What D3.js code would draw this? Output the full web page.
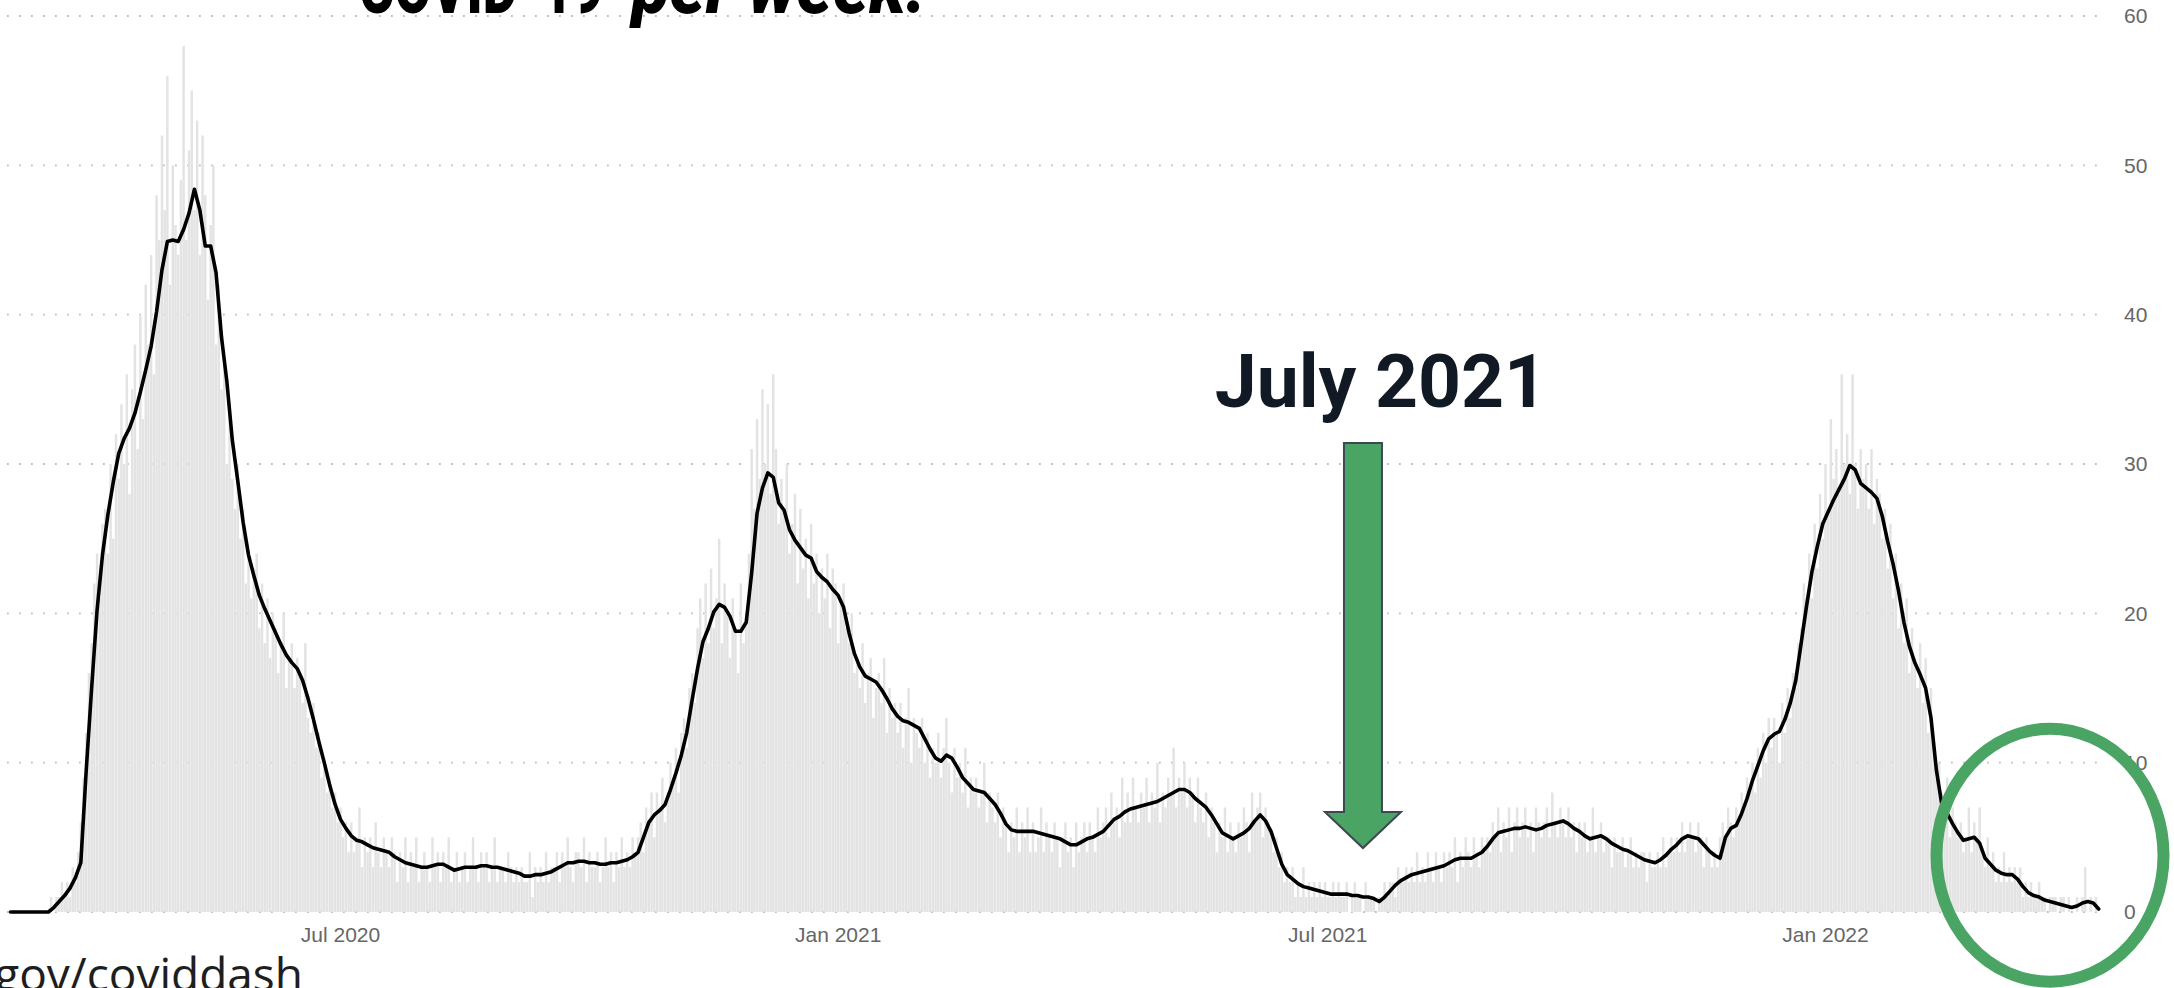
<!DOCTYPE html>
<html><head><meta charset="utf-8">
<script src="https://cdn.jsdelivr.net/npm/d3@7/dist/d3.min.js"></script>
<style>html,body{margin:0;padding:0;background:#fff;overflow:hidden}</style>
</head><body>
<svg id="chart" width="2174" height="988"></svg>
<script>
// ---------- data ----------
const startDate = "2020-03-01";
const endDate = "2022-04-13";
const yTicks = [0, 10, 20, 30, 40, 50, 60];
const xTickDates = ["2020-07-01", "2021-01-01", "2021-07-01", "2022-01-01"];
// daily values, one per day from startDate
const dailyValues = [
0,0,0,0,0,0,0, 0,0,0,0,0,0,0, 0,1,0,1,1,2,1, 2,1,3,2,4,6,9,
12,16,18,22,24,21,26, 27,24,30,25,32,29,34, 30,36,28,35,38,31,40, 33,42,38,44,36,48,45,
52,47,56,42,50,46,44, 49,58,45,51,55,47,53, 44,52,48,41,46,50,38, 42,35,37,30,33,29,27,
30,25,27,22,24,21,23, 24,19,22,18,21,17,20, 19,16,18,20,15,17,18, 15,17,16,14,18,13,12,
14,11,12,9,10,8,9, 7,8,6,7,5,6,4, 6,4,5,7,3,5,4, 5,3,6,4,3,5,4,
3,5,4,2,4,3,5, 2,4,3,5,2,3,4, 3,2,5,3,4,2,4, 3,5,2,3,4,2,3,
4,2,3,5,3,2,4, 3,4,2,3,5,2,3, 3,2,4,3,2,3,2, 3,2,2,4,1,3,2,
3,2,4,2,3,3,4, 2,4,3,5,3,2,4, 4,3,5,2,4,3,3, 4,2,3,5,3,4,2,
4,3,5,3,4,3,5, 4,5,6,4,7,6,8, 5,8,7,9,6,8,10, 9,11,8,12,13,11,15,
16,14,19,21,17,22,18, 23,19,21,25,18,22,20, 17,21,19,16,22,18,20, 24,31,27,33,29,35,30,
34,28,36,31,26,29,27, 30,24,26,28,22,27,23, 25,21,26,22,24,20,23, 21,24,19,23,22,18,21,
22,19,18,20,16,17,15, 18,14,16,17,13,15,16, 14,17,12,15,13,14,12, 14,11,13,15,10,13,12,
11,13,10,12,9,11,10, 12,9,11,13,10,8,11, 9,10,8,11,7,9,8, 9,7,8,10,6,8,7,
6,8,5,7,6,4,6, 5,7,4,6,5,7,4, 6,4,5,7,4,6,5, 4,6,5,3,5,6,4,
5,3,6,4,5,6,4, 6,5,4,7,5,6,7, 5,8,6,7,5,9,6, 8,6,9,7,6,8,7,
9,6,8,7,10,6,8, 7,9,8,11,7,9,8, 10,7,9,8,6,9,7, 6,8,5,7,6,4,6,
5,7,4,6,5,4,6, 5,7,6,4,8,6,7, 8,5,7,6,5,4,5, 3,4,2,3,2,3,1,
2,1,3,1,2,1,2, 1,2,1,2,1,1,2, 1,2,1,1,2,0,1, 2,1,1,0,2,1,1,
1,0,1,1,2,1,2, 2,1,3,2,2,3,2, 3,2,4,2,3,2,4, 3,2,4,3,2,4,3,
4,3,5,2,4,3,5, 4,3,5,4,3,5,4, 5,4,6,5,7,4,6, 5,7,4,6,7,5,6,
7,5,6,4,7,6,5, 6,7,5,8,6,5,7, 6,5,7,5,6,4,6, 5,6,4,5,7,4,5,
6,4,5,5,3,5,4, 4,5,3,4,5,3,4, 3,4,4,2,4,3,3, 4,3,5,3,4,5,4,
5,4,6,4,5,6,5, 4,6,5,3,5,4,3, 4,3,5,6,5,7,6, 5,7,6,8,7,9,8,
10,8,11,9,12,10,13, 11,13,12,10,14,12,15, 13,16,15,18,19,22,21, 24,21,26,23,28,25,30,
27,33,29,31,28,36,30, 32,28,36,30,27,31,29, 30,27,31,26,29,28,25, 27,23,26,21,24,19,22,
18,21,16,19,17,15,18, 14,17,12,15,11,9,10, 8,6,9,5,7,6,5, 6,4,5,7,4,6,5,
7,4,3,5,3,4,2, 3,2,4,2,3,2,3, 2,3,1,2,1,2,1, 1,2,1,1,0,1,1,
1,0,1,1,0,1,0, 0,1,0,1,3,0,1, 0,1,0,0
];
// 7-day average, one value every 2 days from startDate
const averageStepDays = 2;
const averageValues = [
0,0,0,0,0,0,0,0, 0.3,0.7,1.1,1.6,2.3,3.3,9.5,15.0,20.2,23.9,26.6,28.8,30.7,31.7,32.4,33.4,34.8,36.3,37.9,40.2,
43.0,44.9,45.0,44.9,45.7,46.8,48.4,47.0,44.6,44.6,42.8,38.5,35.5,31.6,28.9,26.1,23.9,22.5,21.2,20.3,19.5,18.7,
17.9,17.2,16.7,16.3,15.5,14.3,12.9,11.4,10.0,8.5,7.2,6.2,5.6,5.1,4.8,4.7,4.5,4.3,4.2,4.1,4.0,3.7,3.5,3.3,3.2,
3.1,3.0,3.0,3.1,3.2,3.2,3.0,2.8,2.9,3.0,3.0,3.0,3.1,3.1,3.0,3.0,2.9,2.8,2.7,2.6,2.4,2.4,2.5,2.5,2.6,2.7,2.9,
3.1,3.3,3.3,3.4,3.4,3.3,3.3,3.2,3.2,3.3,3.3,3.4,3.5,3.7,4.0,5.0,6.0,6.5,6.8,7.2,8.2,9.3,10.5,12.0,14.2,16.3,
18.1,19.0,20.1,20.6,20.4,19.8,18.8,18.8,19.4,22.7,26.7,28.4,29.4,29.1,27.4,26.9,25.6,24.9,24.4,23.9,23.7,22.8,
22.4,22.1,21.6,21.2,20.4,18.7,17.3,16.4,15.8,15.6,15.4,14.9,14.3,13.6,13.1,12.8,12.7,12.5,12.3,11.6,10.9,10.3,
10.1,10.5,10.3,9.7,9.0,8.6,8.2,8.1,8.0,7.6,7.2,6.6,5.9,5.5,5.4,5.4,5.4,5.4,5.3,5.2,5.1,5.0,4.9,4.7,4.5,4.5,
4.7,4.9,5.0,5.2,5.4,5.8,6.2,6.4,6.7,6.9,7.0,7.1,7.2,7.3,7.4,7.6,7.8,8.0,8.2,8.2,8.0,7.6,7.3,7.0,6.5,5.9,5.3,
5.1,4.9,5.1,5.3,5.6,6.1,6.5,6.1,5.4,4.3,3.2,2.5,2.2,1.9,1.7,1.6,1.5,1.4,1.3,1.2,1.2,1.2,1.2,1.1,1.1,1.0,1.0,
0.9,0.7,1.0,1.4,1.8,2.1,2.3,2.5,2.6,2.7,2.8,2.9,3.0,3.1,3.3,3.5,3.6,3.6,3.6,3.8,4.0,4.4,4.9,5.3,5.4,5.5,5.6,
5.6,5.7,5.6,5.5,5.6,5.8,5.9,6.0,6.1,5.9,5.6,5.4,5.1,4.9,5.0,5.1,4.9,4.6,4.4,4.2,4.1,3.9,3.7,3.5,3.4,3.3,3.5,
3.8,4.2,4.5,4.9,5.1,5.0,4.9,4.5,4.1,3.8,3.6,5.0,5.6,5.8,6.6,7.6,8.8,9.8,10.8,11.6,11.9,12.1,12.9,14.0,15.5,
18.0,20.5,22.8,24.5,26.0,26.8,27.6,28.3,29.0,29.9,29.6,28.7,28.4,28.1,27.7,26.5,24.8,23.3,21.5,19.4,17.8,16.7,
15.9,15.0,13.0,9.5,7.2,6.6,5.9,5.3,4.8,4.9,5.0,4.6,3.6,3.2,2.8,2.6,2.5,2.5,2.2,1.7,1.3,1.1,1.0,0.8,0.7,0.6,
0.5,0.4,0.3,0.4,0.6,0.7,0.6,0.2
];
const titleMain = "COVID-19";
const titleItalic = "per week.";
const annotationLabel = "July 2021";
const annotationDate = "2021-07-14";
const highlightDate = "2022-03-25";
const highlightValue = 3.8;
const sourceText = "gov/coviddash";

// ---------- drawing ----------
const W = 2174, H = 988;
const parse = d3.utcParse("%Y-%m-%d");
const t0 = parse(startDate), t1 = parse(endDate);
const x = d3.scaleUtc().domain([t0, t1]).range([10.5, 2101.4]);
const y = d3.scaleLinear().domain([0, 60]).range([912, 16]);
const dayAt = i => d3.utcDay.offset(t0, i);
const dayW = x(dayAt(1)) - x(dayAt(0));
const svg = d3.select("#chart");
svg.append("rect").attr("width", W).attr("height", H).attr("fill", "#fff");

// gridlines
svg.append("g").selectAll("line").data(yTicks).join("line")
  .attr("x1", 7).attr("x2", 2104)
  .attr("y1", d => y(d)).attr("y2", d => y(d))
  .attr("stroke", "#bdbdbd").attr("stroke-width", 1.8)
  .attr("stroke-dasharray", "1.8,10.2");

// bars
const barW = dayW * 0.9;
svg.append("g").selectAll("rect").data(dailyValues).join("rect")
  .attr("x", (d, i) => x(dayAt(i)) - barW / 2)
  .attr("y", d => y(d))
  .attr("width", barW)
  .attr("height", d => y(0) - y(d))
  .attr("fill", "#e3e3e3");

// 7-day average line
const line = d3.line()
  .x((d, i) => x(dayAt(i * averageStepDays)))
  .y(d => y(d))
  .curve(d3.curveLinear);
svg.append("path").datum(averageValues)
  .attr("d", line).attr("fill", "none")
  .attr("stroke", "#000").attr("stroke-width", 3.6)
  .attr("stroke-linejoin", "round").attr("stroke-linecap", "round");

// axis labels
svg.append("g").selectAll("text").data(yTicks).join("text")
  .attr("x", 2124).attr("y", d => y(d)).attr("dy", "0.35em")
  .attr("font-family", "'Liberation Sans', Arial, sans-serif")
  .attr("font-size", 21).attr("fill", "#666")
  .text(d => d);
const fmt = d3.utcFormat("%b %Y");
svg.append("g").selectAll("text").data(xTickDates).join("text")
  .attr("x", d => x(parse(d))).attr("y", 942)
  .attr("text-anchor", "middle")
  .attr("font-family", "'Liberation Sans', Arial, sans-serif")
  .attr("font-size", 21).attr("fill", "#666")
  .text(d => fmt(parse(d)));

// title (cut at top): condensed by horizontal scaling to the measured widths
function condensedText(str, x0, width, italic) {
  const g = svg.append("g");
  const t = g.append("text").attr("x", 0).attr("y", 0)
    .attr("font-family", "Roboto, sans-serif").attr("font-weight", 900)
    .attr("font-style", italic ? "italic" : "normal")
    .attr("font-size", 75).attr("fill", "#000").text(str);
  const len = t.node().getComputedTextLength() || width;
  g.attr("transform", `translate(${x0},13) scale(${width / len},1)`);
}
condensedText(titleMain, 359, 245, false);
condensedText(titleItalic, 632, 294, true);

// annotation arrow
const ax = x(parse(annotationDate));
const shaftHalf = 19, headHalf = 38, topY = 443, headY = 812, tipY = 848;
const arrowPts = [[ax - shaftHalf, topY], [ax + shaftHalf, topY], [ax + shaftHalf, headY],
  [ax + headHalf, headY], [ax, tipY], [ax - headHalf, headY], [ax - shaftHalf, headY]];
svg.append("path").attr("d", "M" + arrowPts.map(p => p.join(",")).join("L") + "Z")
  .attr("fill", "#4aa564").attr("stroke", "#3e4752").attr("stroke-width", 2)
  .attr("stroke-linejoin", "miter");
svg.append("text").attr("x", ax + 18).attr("y", 407)
  .attr("text-anchor", "middle")
  .attr("font-family", "Roboto, sans-serif").attr("font-weight", 700)
  .attr("font-size", 75).attr("fill", "#111a24")
  .text(annotationLabel);

// highlight ellipse
svg.append("ellipse")
  .attr("cx", x(parse(highlightDate))).attr("cy", y(highlightValue))
  .attr("rx", 113.5).attr("ry", 126.5)
  .attr("fill", "none").attr("stroke", "#4aa564").attr("stroke-width", 12);

// source text (cut at bottom)
svg.append("text").attr("x", 303).attr("y", 991)
  .attr("text-anchor", "end")
  .attr("font-family", "'Open Sans', sans-serif")
  .attr("font-size", 46).attr("fill", "#1e1e1e")
  .text(sourceText);
</script>
</body></html>
